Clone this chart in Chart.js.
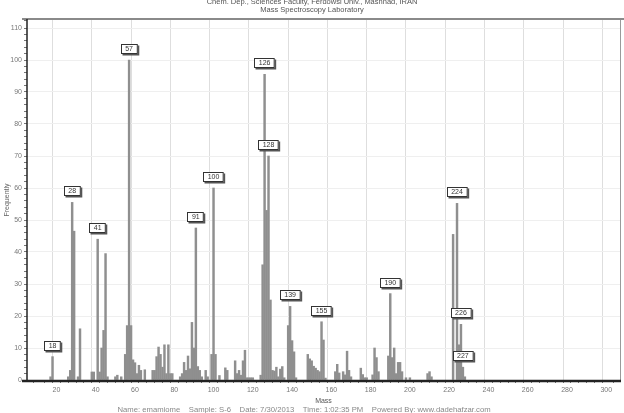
<!DOCTYPE html>
<html><head><meta charset="utf-8">
<script src="https://cdn.jsdelivr.net/npm/chart.js@4/dist/chart.umd.min.js"></script>
<style>html,body{margin:0;padding:0;background:#fff;}canvas{display:block;}</style>
</head><body>
<canvas id="c" width="624" height="413"></canvas>
<script>
const masses = [17,18,26,27,28,29,31,32,38,39,41,42,43,44,45,46,50,51,53,55,56,57,58,59,60,61,62,63,65,
 69,70,71,72,73,74,75,76,77,78,79,83,84,85,86,87,88,89,90,91,92,93,94,96,97,99,100,101,103,106,107,
 111,112,113,114,115,116,117,118,119,120,124,125,126,127,128,129,130,131,132,133,134,135,136,138,139,140,141,142,
 148,149,150,151,152,153,154,155,156,157,162,163,164,166,167,168,169,170,175,176,177,178,181,182,183,184,
 189,190,191,192,193,194,195,196,198,200,209,210,211,222,224,225,226,227,228];
const intensities = [1,7.3,1,3,55.5,46.5,1,16,2.5,2.5,44,2.5,10,15.5,39.5,1,1,1.5,1,8,17,100,17,6.3,5.4,2,4.6,3,3.2,
 3,3,7.3,10.3,8,4,11,2,11,2,2,1,2,5.5,3,7.5,3.5,18,10,47.5,4.2,3,1,3,1,8,60,8,1.4,3.8,3,
 6,2,3,1.5,6,9.3,0.7,0.7,0.7,0.7,1.5,36,95.5,53,70,25,3,2.8,4,1,3.4,4.2,0.7,17,23,12.3,8.8,0.7,
 8,6.6,6,4.3,3.7,3,2.6,18.2,12.5,0.6,2.6,4.9,2.2,2.6,1.6,9,3,1,3.7,1.7,0.7,0.7,1.6,10,7,2.6,
 7.5,27,7,10,2,5.5,5.5,2.6,0.7,0.7,2,2.6,1,45.5,55.2,11,17.4,4,1];
const labelledMasses = [18,28,41,57,91,100,126,128,139,155,190,224,226,227];
const headerLines = ["Chem. Dep., Sciences Faculty, Ferdowsi Univ., Mashhad, IRAN","Mass Spectroscopy Laboratory"];
const xTitle = "Mass";
const yTitle = "Frequently";
const footer = "Name: emamiome    Sample: S-6    Date: 7/30/2013    Time: 1:02:35 PM    Powered By: www.dadehafzar.com";

const FONT = "'Liberation Sans', Arial, sans-serif";

const extras = {
  id:'extras',
  afterDatasetsDraw(chart){
    const {ctx, chartArea:a, scales:{x,y}} = chart;
    ctx.save();
    // borders
    ctx.strokeStyle='#8a8a8a'; ctx.lineWidth=2;
    ctx.beginPath(); ctx.moveTo(a.left-5, a.top-1); ctx.lineTo(a.right+4, a.top-1); ctx.stroke();
    ctx.lineWidth=1; ctx.strokeStyle='#9a9a9a';
    ctx.beginPath(); ctx.moveTo(a.right+0.5, a.top); ctx.lineTo(a.right+0.5, a.bottom); ctx.stroke();
    ctx.strokeStyle='#222'; ctx.lineWidth=1.5;
    ctx.beginPath(); ctx.moveTo(a.left, a.top-1); ctx.lineTo(a.left, a.bottom); ctx.stroke();
    ctx.lineWidth=2.5;
    ctx.beginPath(); ctx.moveTo(a.left-5, a.bottom+1); ctx.lineTo(a.right+1, a.bottom+1); ctx.stroke();
    // peak labels
    ctx.font = "7px " + FONT;
    ctx.textAlign='center'; ctx.textBaseline='middle';
    labelledMasses.forEach(m=>{
      const i = masses.indexOf(m);
      const px = x.getPixelForValue(m);
      const py = y.getPixelForValue(intensities[i]);
      const t = String(m);
      const w = ctx.measureText(t).width + 9;
      const h = 10;
      const bx = Math.round(px - w/2), by = Math.round(py - 6 - h);
      ctx.fillStyle='#555'; ctx.fillRect(bx+1.5, by+1.5, w, h);
      ctx.fillStyle='#fff'; ctx.fillRect(bx, by, w, h);
      ctx.strokeStyle='#333'; ctx.lineWidth=1; ctx.strokeRect(bx+0.5, by+0.5, w-1, h-1);
      ctx.fillStyle='#333'; ctx.fillText(t, px, by + h/2 + 0.5);
    });
    // header
    ctx.fillStyle='#555'; ctx.font="7.5px " + FONT;
    ctx.fillText(headerLines[0], 312, 2);
    ctx.fillText(headerLines[1], 312, 10);
    // axis titles
    ctx.fillStyle='#555'; ctx.font="7px " + FONT;
    ctx.fillText(xTitle, (a.left+a.right)/2, 401);
    ctx.fillStyle='#888'; ctx.font="7.7px " + FONT;
    ctx.fillText(footer, 304, 410);
    ctx.save(); ctx.translate(7, 200); ctx.rotate(-Math.PI/2);
    ctx.fillStyle='#666'; ctx.font="7px " + FONT; ctx.fillText(yTitle, 0, 0); ctx.restore();
    ctx.restore();
  }
};

new Chart(document.getElementById('c'), {
  type:'bar',
  data:{datasets:[{
    data: masses.map((m,i)=>({x:m, y:intensities[i]})),
    backgroundColor:'#8f8f8f', borderColor:'#6a6a6a', borderWidth:0,
    barThickness:1.8, grouped:false
  }]},
  options:{
    responsive:false, animation:false, devicePixelRatio:1,
    layout:{padding:{top:20, right:4, left:0, bottom:0}},
    plugins:{legend:{display:false}, tooltip:{enabled:false}},
    scales:{
      x:{type:'linear', min:5, max:307, offset:false,
        border:{display:false},
        grid:{color:c=>(c.tick && c.tick.value%20===0)?'#dedede':'rgba(0,0,0,0)',
              tickColor:'#777', tickLength:3, lineWidth:1},
        ticks:{stepSize:4, autoSkip:false, maxRotation:0, padding:3,
          color:'#777', font:{size:7, family:FONT},
          callback:v=>(v%20===0 && v>=20)?v:''},
        afterFit:s=>{s.height=33;}
      },
      y:{min:0, max:112.5,
        border:{display:false},
        grid:{color:c=>(c.tick && c.tick.value%10===0 && c.tick.value>0)?'#efefef':'rgba(0,0,0,0)',
              tickColor:'#777', tickLength:3},
        ticks:{stepSize:2, autoSkip:false, padding:2,
          color:'#777', font:{size:7, family:FONT},
          callback:v=>(v%10===0)?v:''},
        afterFit:s=>{s.width=27;}
      }
    }
  },
  plugins:[extras]
});
</script>
</body></html>
